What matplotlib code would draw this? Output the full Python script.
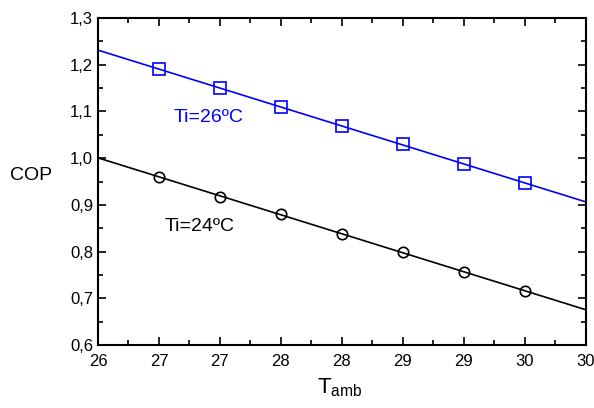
import matplotlib
matplotlib.use("Agg")
import matplotlib.pyplot as plt
import numpy as np
from matplotlib.ticker import MultipleLocator

plt.rcParams['font.family'] = ['Liberation Sans', 'DejaVu Sans']

t_amb = [26.5, 27.0, 27.5, 28.0, 28.5, 29.0, 29.5]
cop_26 = [1.19, 1.15, 1.11, 1.068, 1.03, 0.988, 0.946]
cop_24 = [0.96, 0.918, 0.88, 0.838, 0.80, 0.757, 0.715]
x_ticks = [26.0, 26.5, 27.0, 27.5, 28.0, 28.5, 29.0, 29.5, 30.0]
x_tick_labels = ['26', '27', '27', '28', '28', '29', '29', '30', '30']
y_ticks = [0.6, 0.7, 0.8, 0.9, 1.0, 1.1, 1.2, 1.3]
y_tick_labels = ['0,6', '0,7', '0,8', '0,9', '1,0', '1,1', '1,2', '1,3']

fig = plt.figure(figsize=(5.94, 4.08), dpi=100)
ax = fig.add_axes([0.165, 0.154, 0.821, 0.802])

xl = np.array([26.0, 30.0])
for y, col, mk in [(cop_26, 'blue', 's'), (cop_24, 'black', 'o')]:
    p = np.polyfit(t_amb, y, 1)
    ax.plot(xl, np.polyval(p, xl), color=col, lw=1.2)
    ax.plot(t_amb, y, linestyle='none', marker=mk, markersize=8 if mk == 's' else 7.5,
            markerfacecolor='none', markeredgecolor=col, markeredgewidth=1.2)

ax.set_xlim(26, 30)
ax.set_ylim(0.6, 1.3)
ax.set_xticks(x_ticks)
ax.set_xticklabels(x_tick_labels)
ax.set_yticks(y_ticks)
ax.set_yticklabels(y_tick_labels)
ax.xaxis.set_minor_locator(MultipleLocator(0.25))
ax.yaxis.set_minor_locator(MultipleLocator(0.05))
ax.tick_params(which='both', direction='in', top=True, right=True, labelsize=12, width=1.2)
ax.tick_params(which='major', length=6)
ax.tick_params(which='minor', length=3.5)
ax.tick_params(axis='x', pad=6)
for s in ax.spines.values():
    s.set_linewidth(1.5)

ax.text(26.62, 1.088, 'Ti=26ºC', color='blue', fontsize=14, va='center')
ax.text(26.55, 0.853, 'Ti=24ºC', color='black', fontsize=14, va='center')
fig.text(0.053, 0.571, 'COP', fontsize=14, ha='center', va='center')
fig.text(0.572, 0.050, r'T$_{\mathregular{amb}}$', fontsize=16, ha='center', va='center')

fig.savefig('out.png', dpi=100)
